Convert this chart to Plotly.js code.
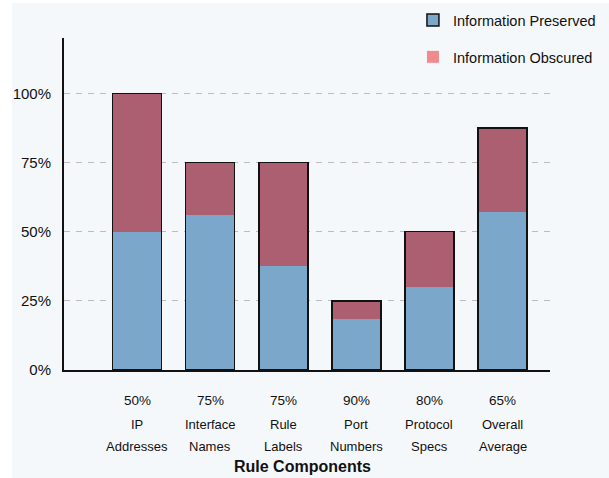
<!DOCTYPE html>
<html>
<head>
<meta charset="utf-8">
<script src="https://cdn.plot.ly/plotly-3.0.1.min.js"></script>
<style>
  html, body { margin: 0; padding: 0; background: #ffffff; }
  #chart { position: absolute; left: 12px; top: 3px; width: 597px; height: 475px; }
</style>
</head>
<body>
<div id="chart"></div>
<script>
// Rule components and their scores
const components = ['IP Addresses', 'Interface Names', 'Rule Labels', 'Port Numbers', 'Protocol Specs', 'Overall Average'];
const componentScores = ['50%', '75%', '75%', '90%', '80%', '65%'];

// Share of information kept vs. hidden (percent)
const preserved = [50, 56, 37.5, 18.5, 30, 57];
const obscured = [50, 19, 37.5, 6.5, 20, 30.5];

const yTicks = [0, 25, 50, 75, 100];
const yTickLabels = ['0%', '25%', '50%', '75%', '100%'];

const seriesNames = ['Information Preserved', 'Information Obscured'];

const totals = preserved.map((v, i) => v + obscured[i]);

const BLUE = '#7ba7cb';
const MAUVE = '#ad5f72';
const PINK = '#f08a8f';
const INK = '#111111';
const BG = '#f5f8fb';
const FONT = 'Liberation Sans, Arial, sans-serif';

const traces = [
  // stacked segments
  { type: 'bar', x: components, y: preserved, name: seriesNames[0], marker: { color: BLUE, line: { width: 0 } },
    showlegend: false, hoverinfo: 'x+y' },
  { type: 'bar', x: components, y: obscured, name: seriesNames[1], marker: { color: MAUVE, line: { width: 0 } },
    showlegend: false, hoverinfo: 'x+y' },
  // outline around each full stack
  { type: 'bar', x: components, y: totals, xaxis: 'x2', yaxis: 'y',
    marker: { color: 'rgba(0,0,0,0)', line: { color: INK, width: 1.6 } },
    showlegend: false, hoverinfo: 'skip' },
  // legend entries
  { type: 'bar', x: [components[0]], y: [null], name: seriesNames[0],
    marker: { color: BLUE, line: { color: INK, width: 1.5 } }, legend: 'legend', hoverinfo: 'skip' },
  { type: 'bar', x: [components[0]], y: [null], name: seriesNames[1],
    marker: { color: PINK, line: { width: 0 } }, legend: 'legend2', hoverinfo: 'skip' }
];

// Labels under the axis: score row, two-line component names, axis title
const rowY = { score: -0.0904, line1: -0.1627, line2: -0.2319, title: -0.2892 };
const labelFont = { family: FONT, size: 13, color: INK };
const scoreFont = { family: FONT, size: 13.5, color: INK };
const annotations = [];
components.forEach((name, i) => {
  const sp = name.indexOf(' ');
  const first = name.slice(0, sp);
  const second = name.slice(sp + 1);
  annotations.push({ x: name, y: rowY.score, xref: 'x', yref: 'paper', text: componentScores[i],
    showarrow: false, xanchor: 'center', yanchor: 'middle', font: scoreFont });
  annotations.push({ x: name, y: rowY.line1, xref: 'x', yref: 'paper', text: first,
    showarrow: false, xanchor: 'center', yanchor: 'middle', font: labelFont });
  annotations.push({ x: name, y: rowY.line2, xref: 'x', yref: 'paper', text: second,
    showarrow: false, xanchor: 'center', yanchor: 'middle', font: labelFont });
});
annotations.push({ x: 0.491, y: rowY.title, xref: 'paper', yref: 'paper', text: '<b>Rule Components</b>',
  showarrow: false, xanchor: 'center', yanchor: 'middle', font: { family: FONT, size: 16, color: INK } });

const legendBase = {
  x: 0.718, xanchor: 'left', yanchor: 'middle',
  bgcolor: 'rgba(0,0,0,0)', borderwidth: 0,
  font: { family: FONT, size: 14.5, color: INK }
};

const layout = {
  width: 597, height: 475,
  margin: { l: 52, r: 59, t: 35, b: 108, autoexpand: false },
  paper_bgcolor: BG, plot_bgcolor: BG,
  barmode: 'stack', bargap: 0.33,
  font: { family: FONT, color: INK },
  xaxis: {
    type: 'category', range: [-1, 5.65],
    showline: true, linecolor: INK, linewidth: 2,
    showgrid: false, zeroline: false, ticks: '', showticklabels: false, fixedrange: true
  },
  xaxis2: {
    type: 'category', overlaying: 'x', matches: 'x', range: [-1, 5.65],
    showline: false, showgrid: false, zeroline: false, ticks: '', showticklabels: false
  },
  yaxis: {
    range: [0, 120], tickvals: yTicks, ticktext: yTickLabels,
    showline: true, linecolor: INK, linewidth: 2,
    showgrid: true, gridcolor: '#bcbcbc', gridwidth: 1.3, griddash: '6px,6px',
    zeroline: false, ticks: '', ticklabelstandoff: 8,
    tickfont: { family: FONT, size: 15, color: INK }, fixedrange: true
  },
  legend: Object.assign({}, legendBase, { y: 1.054 }),
  legend2: Object.assign({}, legendBase, { y: 0.943 }),
  annotations: annotations
};

Plotly.newPlot('chart', traces, layout, { displayModeBar: false, staticPlot: true });
</script>
</body>
</html>
